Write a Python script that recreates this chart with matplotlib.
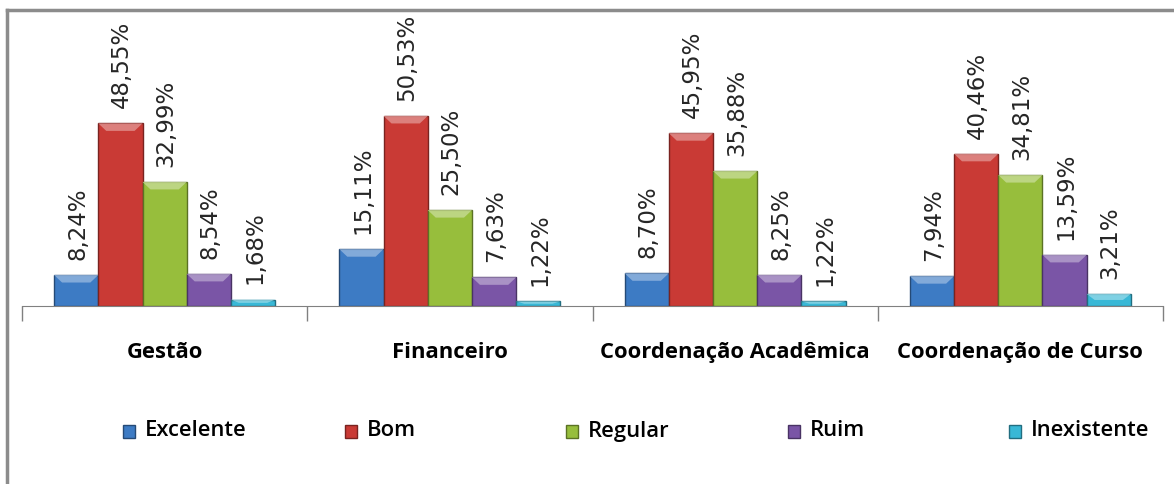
import numpy as np
import matplotlib.pyplot as plt
from matplotlib.patches import Polygon, Rectangle
import matplotlib.colors as mcolors

categories = ["Gestão", "Financeiro", "Coordenação Acadêmica", "Coordenação de Curso"]
series = ["Excelente", "Bom", "Regular", "Ruim", "Inexistente"]
excelente = [8.24, 15.11, 8.70, 7.94]
bom = [48.55, 50.53, 45.95, 40.46]
regular = [32.99, 25.50, 35.88, 34.81]
ruim = [8.54, 7.63, 8.25, 13.59]
inexistente = [1.68, 1.22, 1.22, 3.21]
values = [excelente, bom, regular, ruim, inexistente]
colors = ["#3D7BC4", "#C93A35", "#97BE3C", "#7A55A6", "#39B8D6"]

W, H = 1174, 484
fig = plt.figure(figsize=(W / 100, H / 100), dpi=100)
ax = fig.add_axes([22/W, (H-306)/H, (1163-22)/W, (306-22)/H])

x = np.arange(len(categories))
width = 0.155
for i, (name, vals, col) in enumerate(zip(series, values, colors)):
    pos = x + (i - 2) * width
    dark = np.array(mcolors.to_rgb(col)) * 0.6
    light = np.clip(np.array(mcolors.to_rgb(col)) * 0.55 + 0.45, 0, 1)
    bars = ax.bar(pos, vals, width, color=col, edgecolor=dark, linewidth=1.0,
                  label=name, zorder=2)
    for b, v in zip(bars, vals):
        bx, bw, bh = b.get_x(), b.get_width(), b.get_height()
        band = min(2.0, bh * 0.5)
        inset = bw * 0.18
        ax.add_patch(Polygon([(bx, bh), (bx + bw, bh), (bx + bw - inset, bh - band),
                              (bx + inset, bh - band)], closed=True,
                             facecolor=light, edgecolor="none", alpha=0.8, zorder=3))
        ax.annotate(f"{v:.2f}%".replace(".", ","), (b.get_x() + bw / 2, bh),
                    xytext=(1, 11), textcoords="offset points", rotation=90,
                    ha="center", va="bottom", fontsize=16.5, color="#262626",
                    family="DejaVu Sans")

ax.set_xlim(-0.5, len(categories) - 0.5)
ax.set_ylim(0, 75.5)
for s in ["top", "right", "left"]:
    ax.spines[s].set_visible(False)
ax.spines["bottom"].set_color("#808080")
ax.set_yticks([])
ax.set_xticks(np.arange(-0.5, len(categories)), minor=False)
ax.set_xticklabels([])
ax.tick_params(axis="x", length=11, color="#808080", width=1)
for xi, c in zip(x, categories):
    ax.text(xi, -0.162, c, transform=ax.get_xaxis_transform(), ha="center",
            va="center", fontsize=15.8, fontweight="bold", family="Open Sans",
            color="black")

# legend: evenly spaced entries like the original
leg_y = (H - 431) / H
for k, (name, col) in enumerate(zip(series, colors)):
    mx = (123 + k * 221.5) / W
    dark = np.array(mcolors.to_rgb(col)) * 0.6
    fig.add_artist(Rectangle((mx, leg_y - 6.5/H), 12/W, 13/H, facecolor=col,
                             edgecolor=dark, linewidth=1, transform=fig.transFigure))
    fig.text(mx + 22/W, leg_y, name, ha="left", va="center", fontsize=15.8,
             fontweight="semibold", family="Open Sans", color="black")

# chart frame (left and top only visible)
fig.add_artist(plt.Line2D([7/W, 7/W], [0, 1 - 10/H], color="#8c8c8c", lw=2.5))
fig.add_artist(plt.Line2D([7/W, 1], [1 - 10/H, 1 - 10/H], color="#8c8c8c", lw=2.5))

fig.savefig("out.png", dpi=100)
